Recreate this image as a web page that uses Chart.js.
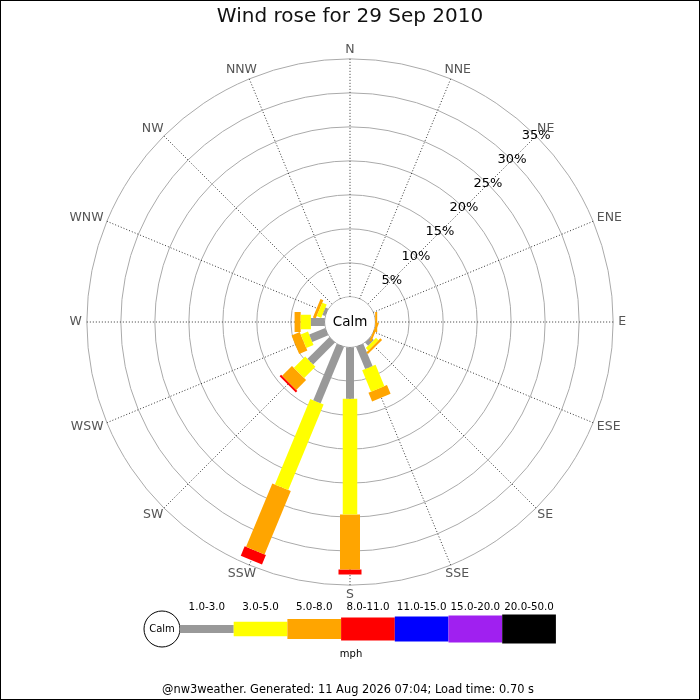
<!DOCTYPE html>
<html><head><meta charset="utf-8">
<script src="https://cdn.jsdelivr.net/npm/chart.js@4.4.0/dist/chart.umd.min.js"></script>
<style>html,body{margin:0;padding:0;background:#fff}canvas{display:block}</style>
</head><body>
<canvas id="c" width="700" height="700"></canvas>
<script>
// ---- data ----
const directions = ['N','NNE','NE','ENE','E','ESE','SE','SSE','S','SSW','SW','WSW','W','WNW','NW','NNW'];
const speedClasses = ['1.0-3.0','3.0-5.0','5.0-8.0','8.0-11.0','11.0-15.0','15.0-20.0','20.0-50.0'];
// percent of time, per direction (N..NNW), per speed class (mph)
const pct_1_3   = [0,0,0,0,0,0,0.65,3.55,7.6,9.0,4.55,2.55,2.05,0.45,0,0];
const pct_3_5   = [0,0,0,0,0,0,0.5,3.4,17.0,13.6,2.35,1.15,1.5,0.7,0,0];
const pct_5_8   = [0,0,0,0,0.3,0.3,0.35,1.4,8.1,10.1,2.05,1.3,0.9,0.45,0,0];
const pct_8_11  = [0,0,0,0,0,0,0,0,0.75,1.5,0.3,0,0,0,0,0];
const pct_11_15 = [0,0,0,0,0,0,0,0,0,0,0,0,0,0,0,0];
const pct_15_20 = [0,0,0,0,0,0,0,0,0,0,0,0,0,0,0,0];
const pct_20_50 = [0,0,0,0,0,0,0,0,0,0,0,0,0,0,0,0];
const ringTicks = [5,10,15,20,25,30,35];
const ringLabels = ['5%','10%','15%','20%','25%','30%','35%'];
const titleText = 'Wind rose for 29 Sep 2010';
const footerText = '@nw3weather. Generated: 11 Aug 2026 07:04; Load time: 0.70 s';
const unitText = 'mph';
const calmText = 'Calm';

// ---- styles ----
const classSeries = [pct_1_3,pct_3_5,pct_5_8,pct_8_11,pct_11_15,pct_15_20,pct_20_50];
const classColors = ['#999999','#ffff00','#ffa500','#ff0000','#0000ff','#a020f0','#000000'];
const classWidths = [8,14.5,20,23,25,27,29];
const CALM_R = 3.7;     // radius of calm circle in % units
const AXIS_L = 44.12;   // half-span of the square plot in % units
const FONT = '"DejaVu Sans", sans-serif';

const datasets = [];
directions.forEach((d, di) => {
  let cum = 0;
  const rad = di * Math.PI / 8;
  classSeries.forEach((series, ci) => {
    const v = series[di];
    if (v > 0) {
      const r0 = CALM_R + cum, r1 = CALM_R + cum + v;
      datasets.push({
        label: d + ' ' + speedClasses[ci],
        data: [{x: r0*Math.sin(rad), y: r0*Math.cos(rad)}, {x: r1*Math.sin(rad), y: r1*Math.cos(rad)}],
        showLine: true, borderColor: classColors[ci], borderWidth: classWidths[ci],
        borderCapStyle: 'butt', pointRadius: 0, pointHoverRadius: 0, fill: false, tension: 0
      });
    }
    cum += v;
  });
});

const rosePlugin = {
  id: 'rose',
  beforeDatasetsDraw(chart) {
    const ctx = chart.ctx, xs = chart.scales.x, ys = chart.scales.y;
    const cx = xs.getPixelForValue(0), cy = ys.getPixelForValue(0);
    const unit = xs.getPixelForValue(1) - cx;
    ctx.save();
    ctx.strokeStyle = '#aaaaaa'; ctx.lineWidth = 1;
    [0].concat(ringTicks).forEach(t => {
      ctx.beginPath(); ctx.arc(cx, cy, (CALM_R + t) * unit, 0, Math.PI*2); ctx.stroke();
    });
    ctx.strokeStyle = '#333333'; ctx.setLineDash([1,2]);
    const rOut = (CALM_R + ringTicks[ringTicks.length-1]) * unit, rIn = CALM_R * unit;
    directions.forEach((d, di) => {
      const a = di * Math.PI / 8;
      ctx.beginPath();
      ctx.moveTo(cx + rIn*Math.sin(a), cy - rIn*Math.cos(a));
      ctx.lineTo(cx + rOut*Math.sin(a), cy - rOut*Math.cos(a));
      ctx.stroke();
    });
    ctx.restore();
  },
  afterDatasetsDraw(chart) {
    const ctx = chart.ctx, xs = chart.scales.x, ys = chart.scales.y;
    const cx = xs.getPixelForValue(0), cy = ys.getPixelForValue(0);
    const unit = xs.getPixelForValue(1) - cx;
    ctx.save();
    // calm circle
    ctx.fillStyle = '#ffffff';
    ctx.beginPath(); ctx.arc(cx, cy, CALM_R*unit - 0.5, 0, Math.PI*2); ctx.fill();
    ctx.fillStyle = '#000'; ctx.font = '13.5px ' + FONT;
    ctx.textAlign = 'center'; ctx.textBaseline = 'middle';
    ctx.fillText(calmText, cx, cy);
    // ring labels along NE
    ctx.font = '13px ' + FONT; ctx.fillStyle = '#000';
    ringTicks.forEach((t, i) => {
      const r = (CALM_R + t) * unit, a = Math.PI/4;
      ctx.fillText(ringLabels[i], cx + r*Math.sin(a), cy - r*Math.cos(a));
    });
    // direction labels, placed just outside the outer ring
    const rLab = (CALM_R + ringTicks[ringTicks.length-1]) * unit + 5;
    ctx.fillStyle = '#555555'; ctx.font = '12.5px ' + FONT;
    directions.forEach((d, di) => {
      const a = di * Math.PI / 8;
      const w = ctx.measureText(d).width, h = 9;
      const px = cx + rLab*Math.sin(a) + Math.sin(a)*w/2;
      const py = cy - rLab*Math.cos(a) - Math.cos(a)*h/2;
      ctx.fillText(d, px, py);
    });
    // legend
    const lx = 162, ly = 629, lr = 18, bw = 53.7;
    ctx.strokeStyle = '#000'; ctx.lineWidth = 1; ctx.fillStyle = '#fff';
    ctx.beginPath(); ctx.arc(lx, ly, lr, 0, Math.PI*2); ctx.fill(); ctx.stroke();
    ctx.fillStyle = '#000'; ctx.font = '10px ' + FONT;
    ctx.fillText(calmText, lx, ly);
    speedClasses.forEach((s, ci) => {
      const x0 = lx + lr + bw*ci, h = classWidths[ci];
      ctx.fillStyle = classColors[ci];
      ctx.fillRect(x0, ly - h/2, bw, h);
      ctx.fillStyle = '#000'; ctx.font = '10.3px ' + FONT;
      ctx.fillText(s, x0 + bw/2, 607.5);
    });
    ctx.font = '10px ' + FONT;
    ctx.fillText(unitText, 351, 654);
    // title & footer
    ctx.font = '20px ' + FONT; ctx.fillStyle = '#111';
    ctx.fillText(titleText, 350, 17);
    ctx.font = '11.4px ' + FONT; ctx.fillStyle = '#000';
    ctx.fillText(footerText, 348, 690);
    // frame
    ctx.strokeStyle = '#000'; ctx.lineWidth = 1;
    ctx.strokeRect(0.5, 0.5, chart.width - 1, chart.height - 1);
    ctx.restore();
  }
};

new Chart(document.getElementById('c'), {
  type: 'scatter',
  data: { datasets },
  options: {
    responsive: false, animation: false, devicePixelRatio: 1,
    layout: { padding: { left: 50, right: 50, top: 22, bottom: 78 } },
    plugins: { legend: { display: false }, title: { display: false }, tooltip: { enabled: false } },
    scales: {
      x: { type: 'linear', min: -AXIS_L, max: AXIS_L, display: false },
      y: { type: 'linear', min: -AXIS_L, max: AXIS_L, display: false }
    }
  },
  plugins: [rosePlugin]
});
</script>
</body></html>
